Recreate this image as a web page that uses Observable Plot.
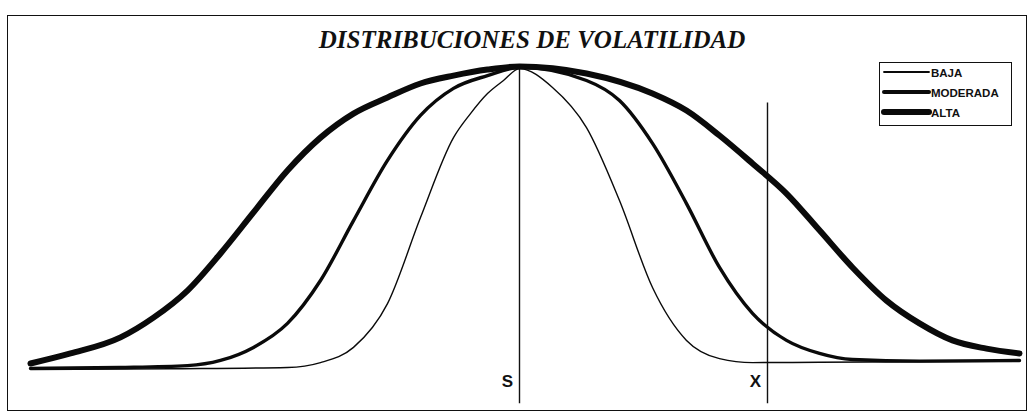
<!DOCTYPE html>
<html>
<head>
<meta charset="utf-8">
<script src="https://cdn.jsdelivr.net/npm/d3@7"></script>
<script src="https://cdn.jsdelivr.net/npm/@observablehq/plot@0.6"></script>
<style>
  html, body { margin: 0; padding: 0; background: #fff; }
  #wrap { position: relative; width: 1029px; height: 416px; overflow: hidden; }
  #frame { position: absolute; left: 7px; top: 15px; width: 1018px; height: 394px; border: 1.8px solid #111; }
  #title { position: absolute; left: 0; width: 1064px; top: 27px; text-align: center;
    font-family: "Liberation Serif", "DejaVu Serif", serif; font-weight: bold; font-style: italic;
    font-size: 25px; color: #111; line-height: 1; }
  #legend { position: absolute; left: 879px; top: 62px; width: 131px; height: 62px;
    border: 1.5px solid #111; background: #fff; }
  #legend svg { display: block; }
  #plot { position: absolute; left: 0; top: 0; }
</style>
</head>
<body>
<div id="wrap">
  <div id="frame"></div>
  <div id="plot"></div>
  <div id="title"></div>
  <div id="legend"></div>
</div>
<script>
// Title and series names
const titleText = "DISTRIBUCIONES DE VOLATILIDAD";
const seriesNames = ["BAJA", "MODERADA", "ALTA"];
const seriesWidths = [1.4, 3.4, 6];
const legendWidths = [1.8, 4, 6];
const markerLabels = ["S", "X"];
const markerX = [0, 2.48];
const markerTop = [1.0, 0.88];

// x position, relative height
const bajaX = [-4.89, -3.5, -2.32, -1.99, -1.66, -1.32, -0.99, -0.66, -0.49, -0.32, -0.16, 0, 0.33, 0.67, 1.00, 1.33, 1.67, 2.00, 2.33, 3.00, 4.00, 5.00];
const bajaY = [0.003, 0.006, 0.010, 0.026, 0.076, 0.220, 0.503, 0.766, 0.845, 0.911, 0.954, 0.993, 0.931, 0.799, 0.559, 0.273, 0.099, 0.039, 0.026, 0.027, 0.029, 0.030];

const moderadaX = [-4.89, -4.0, -3.32, -2.99, -2.66, -2.32, -1.99, -1.66, -1.32, -0.99, -0.66, -0.32, 0, 0.67, 1.00, 1.33, 1.67, 2.00, 2.33, 2.67, 3.00, 3.33, 4.00, 5.00];
const moderadaY = [0.007, 0.010, 0.016, 0.033, 0.076, 0.155, 0.296, 0.493, 0.691, 0.839, 0.928, 0.970, 0.997, 0.954, 0.888, 0.747, 0.549, 0.339, 0.188, 0.099, 0.056, 0.036, 0.031, 0.033];

const altaX = [-4.89, -4.49, -3.99, -3.66, -3.32, -2.99, -2.66, -2.32, -1.99, -1.66, -1.32, -0.99, -0.66, -0.32, 0, 0.67, 1.33, 1.67, 2.00, 2.33, 2.67, 3.00, 3.33, 3.67, 4.00, 4.33, 4.67, 5.00];
const altaY = [0.023, 0.056, 0.109, 0.174, 0.263, 0.385, 0.520, 0.658, 0.766, 0.845, 0.898, 0.944, 0.970, 0.990, 1.000, 0.977, 0.911, 0.855, 0.773, 0.681, 0.582, 0.461, 0.339, 0.230, 0.155, 0.099, 0.072, 0.056];

const toRows = (xs, ys) => xs.map((x, i) => ({x, y: ys[i]}));
const series = [toRows(bajaX, bajaY), toRows(moderadaX, moderadaY), toRows(altaX, altaY)];
const markers = markerLabels.map((label, i) => ({label, x: markerX[i], top: markerTop[i], bottom: -0.109}));

const chart = Plot.plot({
  width: 1029,
  height: 416,
  marginLeft: 19,
  marginRight: 10,
  marginTop: 66,
  marginBottom: 46,
  x: {domain: [-5, 5], axis: null},
  y: {domain: [0, 1], axis: null},
  style: {background: "transparent", overflow: "visible"},
  marks: [
    Plot.ruleX(markers, {x: "x", y1: "bottom", y2: "top", stroke: "#111", strokeWidth: 1.4}),
    ...series.map((rows, i) => Plot.line(rows, {
      x: "x", y: "y", curve: "monotone-x", stroke: "#0a0a0a",
      strokeWidth: seriesWidths[i], strokeLinecap: "round", strokeLinejoin: "round"
    })),
    Plot.text(markers, {
      x: "x", text: "label", frameAnchor: "bottom", dy: 4, dx: -12, lineAnchor: "top",
      fontFamily: "Liberation Sans, Arial, sans-serif", fontWeight: "bold", fontSize: 17, fill: "#111"
    })
  ]
});
document.getElementById("plot").appendChild(chart);
document.getElementById("title").textContent = titleText;

// Legend
const lg = d3.select("#legend").append("svg").attr("width", 131).attr("height", 62);
seriesNames.forEach((name, i) => {
  const y = 9 + i * 20;
  lg.append("line").attr("x1", 4).attr("x2", 49).attr("y1", y).attr("y2", y)
    .attr("stroke", "#0a0a0a").attr("stroke-width", legendWidths[i]).attr("stroke-linecap", "round");
  lg.append("text").attr("x", 51).attr("y", y + 4.5).text(name)
    .attr("font-family", "Liberation Sans, Arial, sans-serif").attr("font-weight", "bold")
    .attr("font-size", 11.5).attr("fill", "#111");
});
</script>
</body>
</html>
